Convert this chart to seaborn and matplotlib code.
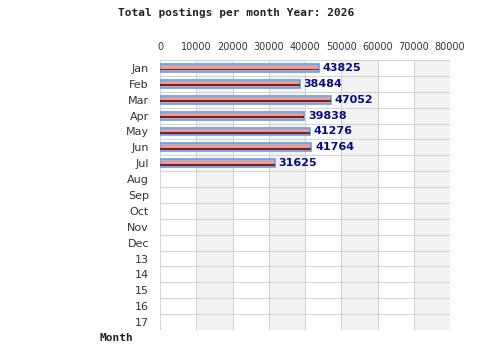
import matplotlib
matplotlib.use("Agg")
import matplotlib.pyplot as plt
import seaborn as sns
import pandas as pd

months = ["Jan", "Feb", "Mar", "Apr", "May", "Jun", "Jul", "Aug", "Sep", "Oct",
          "Nov", "Dec", "13", "14", "15", "16", "17"]
postings = [43825, 38484, 47052, 39838, 41276, 41764, 31625,
            None, None, None, None, None, None, None, None, None, None]
xticks = [0, 10000, 20000, 30000, 40000, 50000, 60000, 70000, 80000]

df = pd.DataFrame({"Month": months, "Postings": postings})
df["Month"] = pd.Categorical(df["Month"], categories=months, ordered=True)

sns.set_theme(style="white")
plt.rcParams['font.family'] = ['DejaVu Sans']

fig = plt.figure(figsize=(4.8, 3.6), dpi=100)
ax = fig.add_axes([160/480, 1 - 330/360, 290/480, 270/360])

# alternating shaded bands
for i in range(len(xticks) - 1):
    if i % 2 == 1:
        ax.axvspan(xticks[i], xticks[i + 1], color="#f3f3f3", zorder=0, lw=0)

sns.barplot(data=df, y="Month", x="Postings", orient="h", ax=ax,
            color="#d8a2a2", saturation=1, width=0.5,
            edgecolor="#5ea2ec", linewidth=1.2, zorder=3)

# dark red stripe inside each bar
valid = df.dropna()
ax.barh([months.index(m) + 0.1 for m in valid["Month"]], valid["Postings"],
        height=0.12, color="#8b1a1a", lw=0, zorder=4)

for i, v in enumerate(postings):
    if v is not None:
        ax.text(v + 1000, i, f"{v}", va="center", ha="left", fontsize=8,
                fontweight="bold", color="#0a0a80", zorder=5)

ax.set_xlim(0, 80000)
ax.set_ylim(len(months) - 0.5, -0.5)
ax.xaxis.tick_top()
ax.set_xticks(xticks)
ax.set_xticklabels([str(t) for t in xticks], fontsize=7, color="#333333")
ax.set_yticks(range(len(months)))
ax.set_yticklabels(months, fontsize=8, color="#333333")
ax.tick_params(axis="x", length=0, pad=6)
ax.tick_params(axis="y", length=0, pad=8)

for x in xticks:
    ax.axvline(x, color="#d4d4d4", lw=0.8, zorder=1)
for k in range(len(months) + 1):
    ax.axhline(k - 0.5, color="#d4d4d4", lw=0.8, zorder=1)

for s in ax.spines.values():
    s.set_visible(False)
ax.set_xlabel("")
ax.set_ylabel("")

fig.text(118/480, 1 - 13/360, "Total postings per month Year: 2026",
         fontsize=8, fontweight="bold", family="DejaVu Sans Mono",
         color="#222222", va="center", ha="left")
fig.text(100/480, 1 - 338/360, "Month", fontsize=8, fontweight="bold",
         family="DejaVu Sans Mono", color="#222222", va="center", ha="left")

fig.savefig("out.png", dpi=100)
